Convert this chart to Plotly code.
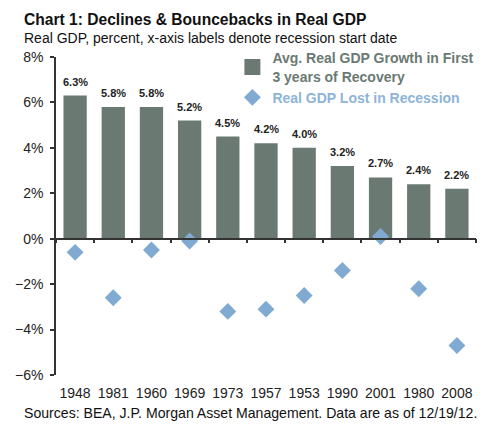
import plotly.graph_objects as go

categories = ["1948", "1981", "1960", "1969", "1973", "1957", "1953", "1990", "2001", "1980", "2008"]
growth = [6.3, 5.8, 5.8, 5.2, 4.5, 4.2, 4.0, 3.2, 2.7, 2.4, 2.2]
gdp_lost = [-0.6, -2.6, -0.5, -0.1, -3.2, -3.1, -2.5, -1.4, 0.1, -2.2, -4.7]
growth_labels = ["6.3%", "5.8%", "5.8%", "5.2%", "4.5%", "4.2%", "4.0%", "3.2%", "2.7%", "2.4%", "2.2%"]
y_min, y_max = -6, 8

BAR_C = "#6a7a73"
DIA_C = "#80aad2"
FONT = "Arial, Liberation Sans, sans-serif"

fig = go.Figure()
fig.add_trace(go.Bar(x=categories, y=growth, marker=dict(color=BAR_C, line=dict(width=0)),
                     showlegend=False, hoverinfo="x+y"))
# legend proxy for bar series
fig.add_trace(go.Scatter(x=[None], y=[None], mode="markers",
                         marker=dict(symbol="square", size=20, color=BAR_C),
                         name="<span style='color:#6a7a73'><b>Avg. Real GDP Growth in First<br>3 years of Recovery</b></span>"))
fig.add_trace(go.Scatter(x=categories, y=gdp_lost, mode="markers", xaxis="x2",
                         marker=dict(symbol="diamond", size=13, color=DIA_C, line=dict(width=0)),
                         name="<span style='color:#8db4d8'><b>Real GDP Lost in Recession</b></span>"))

annotations = []
for i, (v, t) in enumerate(zip(growth, growth_labels)):
    annotations.append(dict(x=i, y=v, xref="x", yref="y", text=f"<b>{t}</b>", showarrow=False,
                            yshift=14, yanchor="middle",
                            font=dict(size=11, color="#222222", family=FONT)))

annotations += [
    dict(xref="paper", yref="paper", x=-0.081, y=1.118, xanchor="left", yanchor="middle",
         text="<b>Chart 1: Declines & Bouncebacks in Real GDP</b>", showarrow=False,
         font=dict(size=15.6, color="#111111", family=FONT)),
    dict(xref="paper", yref="paper", x=-0.081, y=1.061, xanchor="left", yanchor="middle",
         text="Real GDP, percent, x-axis labels denote recession start date", showarrow=False,
         font=dict(size=14, color="#111111", family=FONT)),
    dict(xref="paper", yref="paper", x=-0.081, y=-0.12, xanchor="left", yanchor="middle",
         text="Sources: BEA, J.P. Morgan Asset Management. Data are as of 12/19/12.", showarrow=False,
         font=dict(size=14.1, color="#111111", family=FONT)),
]

fig.update_layout(
    width=492, height=425,
    margin=dict(l=48, r=24, t=49, b=58, autoexpand=False),
    paper_bgcolor="white", plot_bgcolor="white",
    font=dict(family=FONT, size=13, color="#222222"),
    bargap=0.39,
    showlegend=True,
    legend=dict(x=0.42, y=1.046, xanchor="left", yanchor="top", bgcolor="rgba(0,0,0,0)",
                font=dict(size=14, family=FONT), tracegroupgap=4, itemsizing="trace"),
    xaxis=dict(type="category", categoryorder="array", categoryarray=categories,
               range=[-0.5, len(categories) - 0.5], showline=False, ticks="",
               ticklabelstandoff=8,
               showgrid=False, zeroline=False, tickfont=dict(size=14, color="#222222")),
    xaxis2=dict(type="category", categoryorder="array", categoryarray=categories,
                range=[-0.5, len(categories) - 0.5], overlaying="x", anchor="free",
                position=(0 - y_min) / (y_max - y_min), side="bottom",
                showline=True, linecolor="#333333", linewidth=1.5,
                ticks="outside", tickson="boundaries", ticklen=4, tickwidth=1.5, tickcolor="#333333",
                showticklabels=False, showgrid=False, zeroline=False),
    yaxis=dict(range=[y_min, y_max], dtick=2, ticksuffix="%", showline=True, linecolor="#333333",
               linewidth=1.5, ticks="outside", ticklen=4, tickwidth=1.5, tickcolor="#333333",
               ticklabelstandoff=4,
               showgrid=False, zeroline=False, tickfont=dict(size=14, color="#222222")),
    annotations=annotations,
)

fig.write_html("out.html")
